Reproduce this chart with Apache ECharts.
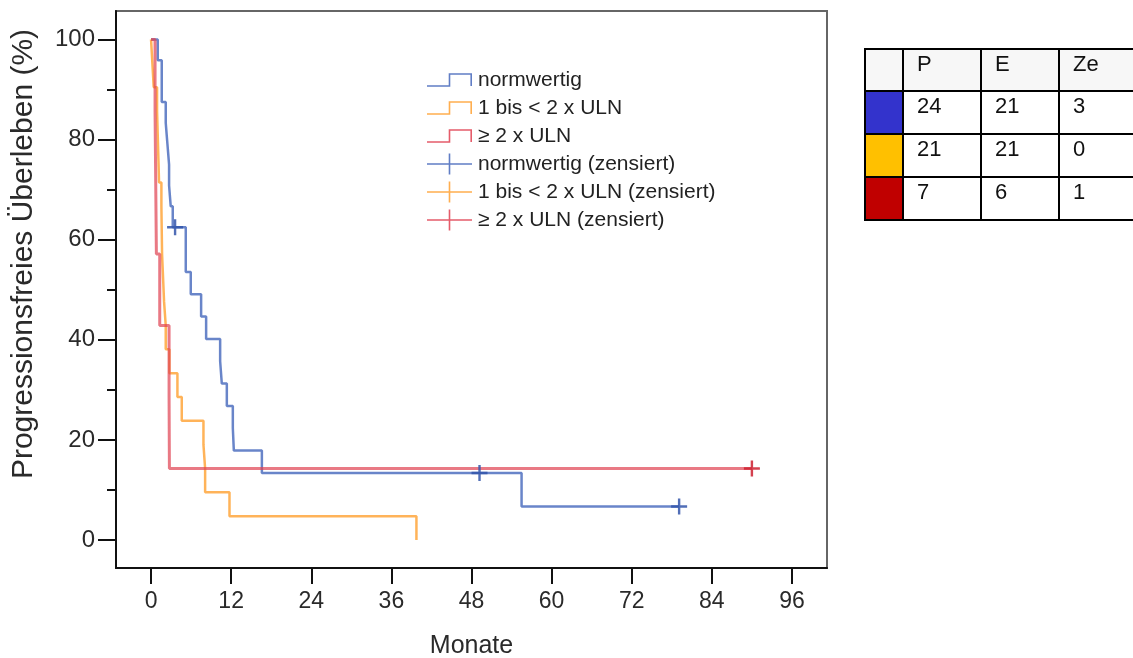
<!DOCTYPE html>
<html>
<head>
<meta charset="utf-8">
<script src="https://cdn.jsdelivr.net/npm/echarts@6/dist/echarts.min.js"></script>
<style>
  html, body { margin: 0; padding: 0; background: #fff; }
  #chart { width: 1133px; height: 658px; }
</style>
</head>
<body>
<div id="chart"></div>
<script>
// Kaplan-Meier estimates (months, % progression-free)
const normTimes = [0, 1.0, 1.6, 1.6, 2.2, 2.45, 2.7, 2.7, 2.95, 3.25, 5.2, 5.2, 5.95, 7.5, 8.25, 10.35, 10.6, 11.35, 12.25, 12.4, 16.6, 55.5, 79.1];
const normSurv  = [100, 95.83, 91.67, 87.5, 83.33, 79.17, 75, 70.83, 66.67, 62.5, 58.04, 53.57, 49.11, 44.64, 40.18, 35.71, 31.25, 26.79, 22.32, 17.86, 13.39, 6.70, 6.70];

const midTimes = [0, 0.2, 0.4, 0.9, 1.0, 1.1, 1.2, 1.55, 1.6, 1.65, 1.8, 1.95, 2.2, 2.2, 2.75, 3.95, 4.6, 7.85, 8.1, 8.1, 11.75, 39.75];
const midSurv  = [100, 95.24, 90.48, 85.71, 80.95, 76.19, 71.43, 66.67, 61.90, 57.14, 52.38, 47.62, 42.86, 38.10, 33.33, 28.57, 23.81, 19.05, 14.29, 9.52, 4.76, 0];

const highTimes = [0, 0.6, 0.7, 0.8, 1.3, 2.7, 2.75, 90];
const highSurv  = [100, 85.71, 71.43, 57.14, 42.86, 28.57, 14.29, 14.29];

// censored observations
const normCensorT = [3.6, 49.2, 79.1];
const normCensorS = [62.5, 13.39, 6.70];
const midCensorT = [];
const midCensorS = [];
const highCensorT = [90];
const highCensorS = [14.29];

// group labels
const groupNames = ['normwertig', '1 bis < 2 x ULN', '\u2265 2 x ULN'];
const censorSuffix = ' (zensiert)';

// axis ticks
const xTicks = [0, 12, 24, 36, 48, 60, 72, 84, 96];
const yTicks = [0, 20, 40, 60, 80, 100];
const yMinorTicks = [10, 30, 50, 70, 90];

// summary table: patients, events, censored
const tableHeaders = ['P', 'E', 'Ze'];
const patientsN = [24, 21, 7];
const eventsN = [21, 21, 6];
const censoredN = [3, 0, 1];
const tableSwatches = ['#3333cc', '#ffc000', '#c00000'];

const FONT = '"Liberation Sans", Arial, sans-serif';
const lineColors = ['#4466bb', '#ffa030', '#e04050'];
const markColors = ['#3355aa', '#ff9a20', '#cc2030'];

const zip = (a, b) => a.map((v, i) => [v, b[i]]);

const stepIcon = 'path://M0,0M45,22M0,16.2H21.7V4.2H45V17H43.4V5.8H23.3V17.8H0Z';
const plusIcon = 'path://M0,0M45,22M0,10.2H45V11.8H0Z M21.7,0.5H23.3V21.5H21.7Z';
const plusMark = 'path://M-8,-1.2H8V1.2H-8Z M-1.2,-8H1.2V8H-1.2Z';

const curves = [zip(normTimes, normSurv), zip(midTimes, midSurv), zip(highTimes, highSurv)];
const censors = [zip(normCensorT, normCensorS), zip(midCensorT, midCensorS), zip(highCensorT, highCensorS)];

const series = [];
groupNames.forEach((name, i) => {
  series.push({
    name: name,
    type: 'line',
    step: 'end',
    data: curves[i],
    showSymbol: false,
    color: lineColors[i],
    lineStyle: { width: i === 2 ? 3 : 2.5, color: lineColors[i], opacity: i === 2 ? 0.7 : 0.8 },
    z: 2 + i,
    silent: true
  });
});
groupNames.forEach((name, i) => {
  series.push({
    name: name + censorSuffix,
    type: 'scatter',
    data: censors[i],
    symbol: plusMark,
    symbolSize: [16, 16],
    color: markColors[i],
    itemStyle: { color: markColors[i], opacity: 0.85 },
    z: 6,
    silent: true
  });
});

const legendData = [];
groupNames.forEach((name, i) => legendData.push({ name: name, icon: stepIcon, itemStyle: { color: lineColors[i], opacity: 0.85, borderWidth: 0 } }));
groupNames.forEach((name, i) => legendData.push({ name: name + censorSuffix, icon: plusIcon, itemStyle: { color: lineColors[i], opacity: 0.85, borderWidth: 0 } }));

// summary table drawn as graphic cells
const colX = [865, 903, 981, 1059, 1140];
const rowY = [49, 91, 134, 177, 220];
const tableRows = [tableHeaders].concat(patientsN.map((p, i) => [p, eventsN[i], censoredN[i]]));
const tableGraphics = [];
for (let r = 0; r < tableRows.length; r++) {
  for (let c = 0; c < 4; c++) {
    let fill = '#ffffff';
    if (r === 0) fill = '#f7f7f7';
    else if (c === 0) fill = tableSwatches[r - 1];
    tableGraphics.push({
      type: 'rect',
      shape: { x: colX[c], y: rowY[r], width: colX[c + 1] - colX[c], height: rowY[r + 1] - rowY[r] },
      style: { fill: fill, stroke: '#000', lineWidth: 2 },
      z: 10
    });
    if (c > 0) {
      tableGraphics.push({
        type: 'text',
        x: colX[c] + 14,
        y: rowY[r] + 16,
        style: {
          text: String(tableRows[r][c - 1]),
          font: '22px ' + FONT,
          fill: '#111',
          align: 'left', verticalAlign: 'middle',
          textAlign: 'left', textVerticalAlign: 'middle'
        },
        z: 11
      });
    }
  }
}

const chart = echarts.init(document.getElementById('chart'), null, { renderer: 'canvas' });
chart.setOption({
  animation: false,
  backgroundColor: '#ffffff',
  grid: {
    left: 116, top: 11, right: 306, bottom: 90,
    outerBoundsMode: 'none', containLabel: false,
    show: true, borderColor: '#666', borderWidth: 2, backgroundColor: 'transparent'
  },
  legend: {
    orient: 'vertical',
    left: 427,
    top: 69,
    padding: 0,
    itemWidth: 45,
    itemHeight: 22,
    itemGap: 6,
    symbolKeepAspect: false,
    selectedMode: false,
    data: legendData,
    itemStyle: { borderWidth: 0 },
    textStyle: { fontFamily: FONT, fontSize: 21, color: '#222', padding: [0, 0, 0, 1] }
  },
  xAxis: {
    type: 'value',
    min: -5.25,
    max: 101.25,
    name: 'Monate',
    nameLocation: 'middle',
    nameGap: 66,
    nameTextStyle: { fontFamily: FONT, fontSize: 25, color: '#2a2a2a' },
    axisLine: { show: true, onZero: false, lineStyle: { color: '#111', width: 2 } },
    axisTick: { show: true, customValues: xTicks, length: 16, lineStyle: { color: '#111', width: 2 } },
    axisLabel: { customValues: xTicks, margin: 22, fontFamily: FONT, fontSize: 23, color: '#2a2a2a' },
    splitLine: { show: false }
  },
  yAxis: [{
    type: 'value',
    min: -5.59,
    max: 105.69,
    axisLine: { show: true, onZero: false, lineStyle: { color: '#111', width: 2 } },
    axisTick: { show: true, customValues: yTicks, length: 18, lineStyle: { color: '#111', width: 2 } },
    axisLabel: { customValues: yTicks, margin: 21, fontFamily: FONT, fontSize: 24, color: '#2a2a2a' },
    splitLine: { show: false }
  }, {
    type: 'value',
    min: -5.59,
    max: 105.69,
    position: 'left',
    offset: 0,
    axisLine: { show: false, onZero: false },
    axisTick: { show: true, customValues: yMinorTicks, length: 9, lineStyle: { color: '#111', width: 2 } },
    axisLabel: { show: false },
    splitLine: { show: false }
  }],
  graphic: [{
    type: 'text',
    x: 24,
    y: 254,
    rotation: Math.PI / 2,
    style: {
      text: 'Progressionsfreies \u00dcberleben (%)',
      font: '30px ' + FONT,
      fill: '#2a2a2a',
      align: 'center', verticalAlign: 'middle',
      textAlign: 'center', textVerticalAlign: 'middle'
    }
  }].concat(tableGraphics),
  series: series
});
</script>
</body>
</html>
